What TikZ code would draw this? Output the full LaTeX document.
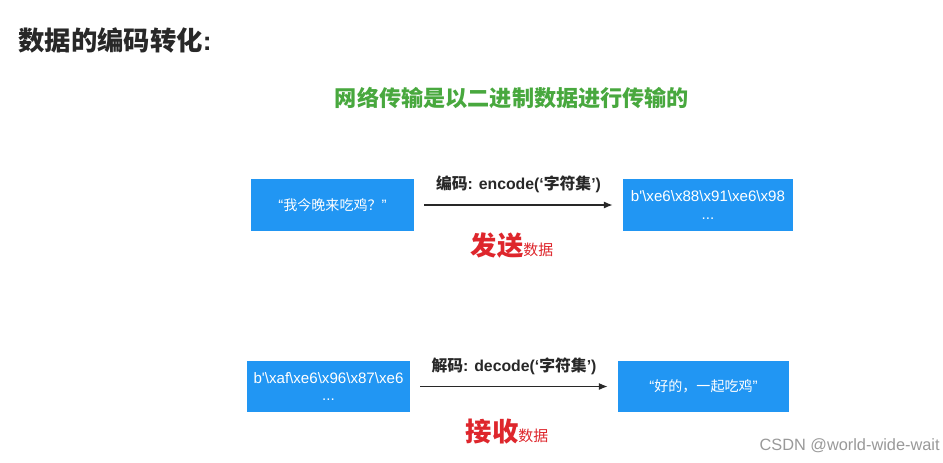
\documentclass[tikz,border=0pt]{standalone}
\usepackage{fontspec}
\setmainfont{Liberation Sans}
\newfontfamily\cjk{Noto Sans CJK SC}
\usetikzlibrary{positioning,arrows.meta}
\definecolor{boxblue}{RGB}{33,150,243}
\definecolor{netgreen}{RGB}{72,168,62}
\definecolor{sendred}{RGB}{222,38,44}
\definecolor{inkgray}{RGB}{40,40,40}
\tikzset{
  data/.style  ={fill=boxblue, text=white, inner sep=0pt, minimum height=1.03cm,
                 align=center, font=\fontsize{8.6}{11}\selectfont},
  flow/.style  ={-{Latex[length=5pt,width=4pt]}, line width=0.7pt, draw=inkgray,
                 shorten <=0.2cm, shorten >=0.2cm},
  codec/.style ={font=\fontsize{9}{11}\selectfont\bfseries, text=inkgray, midway, above=3pt},
  act/.style   ={text=sendred, inner sep=0pt},
}
\newcommand{\actword}[1]{{\cjk\fontsize{15}{17}\selectfont\bfseries #1}{\cjk\fontsize{8.5}{10}\selectfont 数据}}
\newcommand{\bsl}{\textbackslash}
\newcommand{\tick}{\textquotesingle}

\begin{document}
\begin{tikzpicture}[x=0.02cm, y=-0.02cm]
  \fill[white] (0,0) rectangle (943,463);
  \useasboundingbox (0,0) rectangle (943,463);

  \node[anchor=west, font=\fontsize{15}{17}\selectfont\bfseries, text=inkgray, inner sep=0pt](title)
        at (18,40) {{\cjk 数据的编码转化}:};
  \node[font=\cjk\fontsize{12.6}{15}\selectfont\bfseries, text=netgreen](net)
        at (512,98) {网络传输是以二进制数据进行传输的};

  % sending side
  \node[data, minimum width=3.26cm](msg) at (332.5,205) {“{\cjk\fontsize{8}{10}\selectfont 我今晚来吃鸡？}”};
  \node[data, minimum width=3.40cm](enc) at (708,205)
        {b\tick\bsl xe6\bsl x88\bsl x91\bsl xe6\bsl x98\\[-1pt] ...};
  \draw[flow](msg) -- (enc) node[codec]{{\cjk 编码}: encode(‘{\cjk 字符集}’)};
  \node[act](send) at (512,246) {\actword{发送}};

  % receiving side
  \node[data, minimum width=3.26cm](bytes) at (328.5,386.5)
        {b\tick\bsl xaf\bsl xe6\bsl x96\bsl x87\bsl xe6\\[-1pt] ...};
  \node[data, minimum width=3.42cm](reply) at (703.5,386.5) {“{\cjk\fontsize{8}{10}\selectfont 好的，一起吃鸡}”};
  \draw[flow](bytes) -- (reply) node[codec]{{\cjk 解码}: decode(‘{\cjk 字符集}’)};
  \node[act](recv) at (507,432) {\actword{接收}};

  \node[anchor=east, inner sep=0pt, font=\fontsize{9.3}{11}\selectfont, text=black!40](mark)
        at (940,446) {CSDN @world-wide-wait};
\end{tikzpicture}
\end{document}
